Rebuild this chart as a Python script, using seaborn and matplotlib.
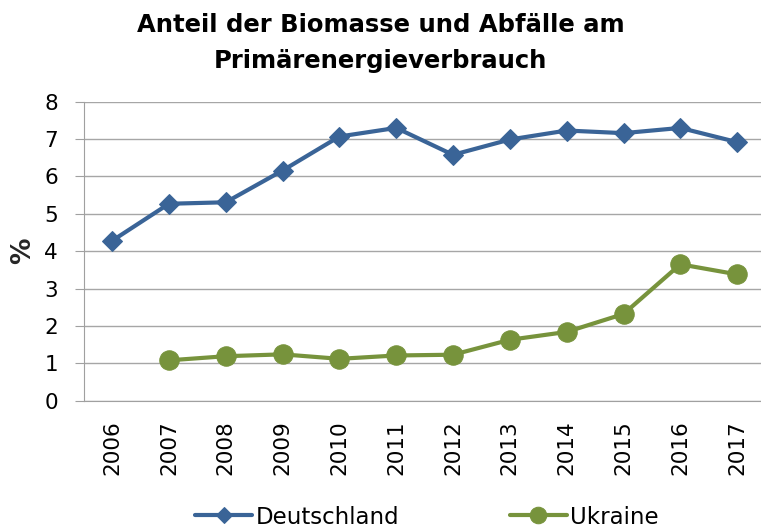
import pandas as pd
import matplotlib.pyplot as plt
import seaborn as sns

# Data
years = ['2006', '2007', '2008', '2009', '2010', '2011', '2012',
         '2013', '2014', '2015', '2016', '2017']
deutschland = [4.28, 5.27, 5.31, 6.16, 7.07, 7.30, 6.58, 6.99, 7.23, 7.16, 7.30, 6.92]
ukraine = [None, 1.08, 1.19, 1.24, 1.12, 1.21, 1.23, 1.63, 1.84, 2.32, 3.65, 3.38]

df = pd.DataFrame({'Jahr': years, 'pos': range(len(years)),
                   'Deutschland': deutschland, 'Ukraine': ukraine})

sns.set_style('white')
plt.rcParams['font.family'] = ['DejaVu Sans']
plt.rcParams['text.color'] = 'black'
plt.rcParams['xtick.color'] = 'black'
plt.rcParams['ytick.color'] = 'black'

fig, ax = plt.subplots(figsize=(7.61, 5.30), dpi=100)
fig.subplots_adjust(left=0.110, right=1.006, top=0.808, bottom=0.244)

blue = '#3A6497'
green = '#77933C'

sns.lineplot(data=df, x='pos', y='Deutschland', ax=ax, color=blue, lw=3,
             marker='D', markersize=10, markeredgecolor=blue, label='Deutschland')
sns.lineplot(data=df.dropna(), x='pos', y='Ukraine', ax=ax, color=green, lw=3,
             marker='o', markersize=14, markeredgecolor=green, label='Ukraine')

ax.set_ylim(0, 8)
ax.set_xlim(-0.5, len(years) - 0.5)
ax.set_yticks(range(0, 9))
ax.set_xticks(range(len(years)))
ax.set_xticklabels(years, rotation=90)
ax.set_xticks([i - 0.5 for i in range(len(years) + 1)], minor=True)
ax.tick_params(axis='x', which='major', length=0, labelsize=15.5, pad=14)
ax.tick_params(axis='x', which='minor', length=7, color='#A0A0A0', width=1)
ax.tick_params(axis='y', length=6.5, color='#A0A0A0', labelsize=15.5, left=True, pad=12)

ax.yaxis.grid(True, color='#A6A6A6', lw=1)
ax.xaxis.grid(False)
for s in ['top', 'right']:
    ax.spines[s].set_visible(False)
for s in ['left', 'bottom']:
    ax.spines[s].set_color('#A0A0A0')

ax.set_xlabel('')
ax.set_ylabel('%', fontsize=19, fontweight='bold', labelpad=6)

# two-line title centred on the figure
fig.text(0.5, 1 - 32 / 530, 'Anteil der Biomasse und Abfälle am', ha='center',
         va='baseline', fontsize=17.5, fontweight='bold')
fig.text(0.5, 1 - 68 / 530, 'Primärenergieverbrauch', ha='center',
         va='baseline', fontsize=17.5, fontweight='bold')

leg = ax.legend(loc='center', bbox_to_anchor=(427 / 761, 1 - 517 / 530), bbox_transform=fig.transFigure,
                ncol=2, frameon=False, fontsize=16.5, columnspacing=4.8,
                handlelength=2.5, handletextpad=0.15, markerscale=0.85)

plt.savefig('out.png', dpi=100)
